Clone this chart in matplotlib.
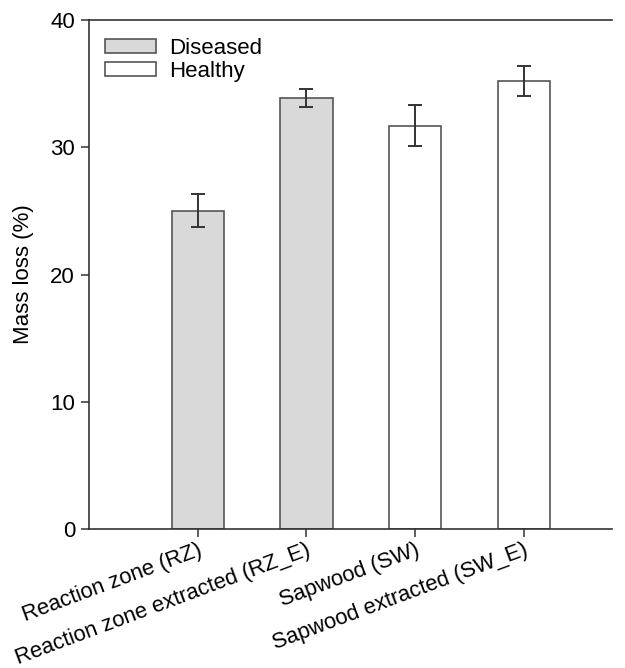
import numpy as np
import matplotlib
matplotlib.use('Agg')
import matplotlib.pyplot as plt

categories = ['Reaction zone (RZ)', 'Reaction zone extracted (RZ_E)',
              'Sapwood (SW)', 'Sapwood extracted (SW_E)']
mass_loss = [25.0, 33.9, 31.7, 35.2]
errors = [1.3, 0.7, 1.6, 1.2]
groups = ['Diseased', 'Diseased', 'Healthy', 'Healthy']
group_colors = {'Diseased': '#d9d9d9', 'Healthy': '#ffffff'}

plt.rcParams['font.family'] = ['Liberation Sans', 'DejaVu Sans']
fs = 16

fig = plt.figure(figsize=(6.25, 6.68), dpi=100)
ax = fig.add_axes([0.1424, 0.208, 0.8366, 0.762])

x = np.arange(len(categories))
edge = '#555555'
for name in ['Diseased', 'Healthy']:
    idx = [i for i, g in enumerate(groups) if g == name]
    ax.bar(x[idx], [mass_loss[i] for i in idx], width=0.48,
           color=group_colors[name], edgecolor=edge, linewidth=1.2,
           label=name, zorder=2)

ax.errorbar(x, mass_loss, yerr=errors, fmt='none', ecolor='#333333',
            elinewidth=1.4, capsize=5, capthick=1.4, zorder=3)

ax.set_xlim(-1.0, 3.81)
ax.set_ylim(0, 40)
ax.set_yticks([0, 10, 20, 30, 40])
ax.set_xticks(x)
ax.set_xticklabels(categories, rotation=20.5, ha='right',
                   rotation_mode='anchor', fontsize=15.8)
ax.tick_params(axis='y', labelsize=fs, direction='out', length=6,
               width=1.1, color='#333333', pad=4)
ax.tick_params(axis='x', direction='out', length=6, width=1.1,
               color='#333333', pad=1.5)
ax.set_ylabel('Mass loss (%)', fontsize=fs, labelpad=12)

for s in ['left', 'bottom', 'top']:
    ax.spines[s].set_color('#333333')
    ax.spines[s].set_linewidth(1.2)
ax.spines['right'].set_visible(False)

ax.legend(loc='upper left', frameon=False, fontsize=fs,
          handlelength=2.3, handleheight=0.6, handletextpad=0.6,
          labelspacing=0.1, borderaxespad=0.4, bbox_to_anchor=(-0.004, 1.0))

fig.savefig('out.png', dpi=100)
